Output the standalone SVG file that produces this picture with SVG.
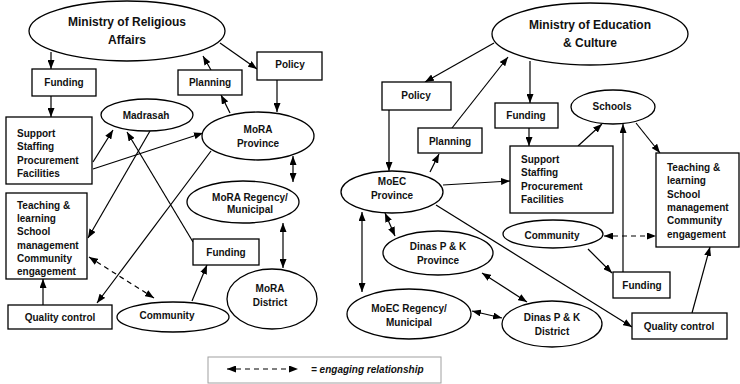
<svg xmlns="http://www.w3.org/2000/svg" width="740" height="384" viewBox="0 0 740 384">
<defs>
<marker id="ae" viewBox="0 0 9 7" refX="9" refY="3.5" markerWidth="9" markerHeight="7" markerUnits="userSpaceOnUse" orient="auto"><path d="M0,0 L9,3.5 L0,7 z" fill="#000"/></marker>
<marker id="as" viewBox="0 0 9 7" refX="9" refY="3.5" markerWidth="9" markerHeight="7" markerUnits="userSpaceOnUse" orient="auto-start-reverse"><path d="M0,0 L9,3.5 L0,7 z" fill="#000"/></marker>
</defs>
<style>
.n{fill:#fff;stroke:#000;stroke-width:1.3}
.t{font-family:"Liberation Sans",Arial,sans-serif;font-weight:bold;font-size:10px;fill:#111}
.c{text-anchor:middle}
.big{font-size:12px}
.e{fill:none;stroke:#000;stroke-width:1.2;marker-end:url(#ae)}
.d{fill:none;stroke:#000;stroke-width:1.2;marker-start:url(#as);marker-end:url(#ae)}
.ds{stroke-dasharray:5 4}
</style>
<rect width="740" height="384" fill="#fff"/>
<g id="connectors">
<line class="e" x1="51" y1="52" x2="51" y2="69"/>
<line class="e" x1="51" y1="96" x2="51" y2="117"/>
<line class="e" x1="211" y1="70" x2="203" y2="56"/>
<line class="e" x1="220" y1="43" x2="257" y2="69"/>
<line class="e" x1="277" y1="80" x2="277" y2="112"/>
<line class="e" x1="230" y1="113" x2="221" y2="95"/>
<line class="e" x1="93" y1="162" x2="113" y2="130"/>
<line class="e" x1="93" y1="169" x2="203" y2="133"/>
<line class="e" x1="150" y1="131" x2="88" y2="238"/>
<line class="e" x1="193" y1="242" x2="127" y2="132"/>
<line class="e" x1="211" y1="151" x2="97" y2="303"/>
<line class="d" x1="293" y1="156" x2="293" y2="182"/>
<line class="d" x1="283" y1="223" x2="283" y2="268"/>
<line class="e" x1="43" y1="305" x2="43" y2="279"/>
<line class="e" x1="192" y1="301" x2="207" y2="265"/>
<line class="d ds" x1="89" y1="257" x2="154" y2="298"/>
<line class="e" x1="494" y1="43" x2="425" y2="82"/>
<line class="e" x1="530" y1="61" x2="530" y2="103"/>
<line class="e" x1="452" y1="128" x2="508" y2="57"/>
<line class="e" x1="389" y1="110" x2="389" y2="171"/>
<line class="e" x1="430" y1="172" x2="439" y2="154"/>
<line class="e" x1="529" y1="128" x2="529" y2="146"/>
<line class="e" x1="443" y1="185" x2="510" y2="181"/>
<line class="e" x1="578" y1="146" x2="602" y2="124"/>
<line class="e" x1="636" y1="123" x2="660" y2="153"/>
<line class="e" x1="623" y1="272" x2="623" y2="124"/>
<line class="d ds" x1="604" y1="236" x2="656" y2="236"/>
<line class="e" x1="436" y1="205" x2="632" y2="327"/>
<line class="d" x1="385" y1="213" x2="395" y2="236"/>
<line class="d" x1="362" y1="212" x2="362" y2="292"/>
<line class="d" x1="482" y1="273" x2="527" y2="302"/>
<line class="d" x1="472" y1="311" x2="502" y2="318"/>
<line class="e" x1="588" y1="249" x2="612" y2="273"/>
<line class="e" x1="692" y1="313" x2="710" y2="247"/>
</g>
<g id="mora"><ellipse class="n" cx="127" cy="31" rx="98" ry="30"/><text class="t c big" x="127" y="26">Ministry of Religious</text><text class="t c big" x="127" y="44">Affairs</text></g>
<g id="funding-l"><rect class="n" x="32" y="69" width="64" height="27"/><text class="t c" x="64" y="86">Funding</text></g>
<g id="planning-l"><rect class="n" x="178" y="70" width="64" height="25"/><text class="t c" x="210" y="86">Planning</text></g>
<g id="policy-l"><rect class="n" x="257" y="52" width="65" height="28"/><text class="t c" x="290" y="68">Policy</text></g>
<g id="madrasah"><ellipse class="n" cx="147" cy="115" rx="46" ry="16"/><text class="t c" x="146" y="118.5">Madrasah</text></g>
<g id="support-l"><rect class="n" x="6" y="117" width="86" height="67"/><text class="t" x="17" y="136.5">Support</text><text class="t" x="17" y="150">Staffing</text><text class="t" x="17" y="163.5">Procurement</text><text class="t" x="17" y="177">Facilities</text></g>
<g id="mora-province"><ellipse class="n" cx="258" cy="136" rx="56" ry="24"/><text class="t c" x="258" y="132.5">MoRA</text><text class="t c" x="258" y="146.5">Province</text></g>
<g id="mora-regency"><ellipse class="n" cx="243" cy="202" rx="56" ry="21"/><text class="t c" x="250" y="200.5">MoRA Regency/</text><text class="t c" x="250" y="213">Municipal</text></g>
<g id="teaching-l"><rect class="n" x="6" y="193" width="81" height="86"/><text class="t" x="17" y="209">Teaching &amp;</text><text class="t" x="17" y="222.2">learning</text><text class="t" x="17" y="235.4">School</text><text class="t" x="17" y="248.6">management</text><text class="t" x="17" y="261.8">Community</text><text class="t" x="17" y="275">engagement</text></g>
<g id="funding-l2"><rect class="n" x="193" y="239" width="66" height="26"/><text class="t c" x="226" y="255.5">Funding</text></g>
<g id="mora-district"><ellipse class="n" cx="272" cy="299" rx="45" ry="30"/><text class="t c" x="270" y="291.5">MoRA</text><text class="t c" x="270" y="305.5">District</text></g>
<g id="qc-l"><rect class="n" x="8" y="305" width="104" height="24"/><text class="t c" x="60" y="321">Quality control</text></g>
<g id="community-l"><ellipse class="n" cx="173" cy="317" rx="56" ry="15"/><text class="t c" x="167" y="318.5">Community</text></g>
<g id="moec"><ellipse class="n" cx="590" cy="34" rx="98" ry="31"/><text class="t c big" x="590" y="29">Ministry of Education</text><text class="t c big" x="590" y="47">&amp; Culture</text></g>
<g id="policy-r"><rect class="n" x="382" y="82" width="69" height="28"/><text class="t c" x="416" y="98.5">Policy</text></g>
<g id="funding-r"><rect class="n" x="495" y="103" width="63" height="25"/><text class="t c" x="526" y="119">Funding</text></g>
<g id="schools"><ellipse class="n" cx="613" cy="107" rx="42" ry="17"/><text class="t c" x="612" y="110">Schools</text></g>
<g id="planning-r"><rect class="n" x="418" y="128" width="64" height="25"/><text class="t c" x="450" y="144.5">Planning</text></g>
<g id="moec-province"><ellipse class="n" cx="392" cy="192" rx="51" ry="21"/><text class="t c" x="392" y="185">MoEC</text><text class="t c" x="392" y="199">Province</text></g>
<g id="support-r"><rect class="n" x="510" y="146" width="103" height="67"/><text class="t" x="521" y="162.5">Support</text><text class="t" x="521" y="176">Staffing</text><text class="t" x="521" y="189.5">Procurement</text><text class="t" x="521" y="203">Facilities</text></g>
<g id="teaching-r"><rect class="n" x="656" y="153" width="83" height="94"/><text class="t" x="667" y="170.5">Teaching &amp;</text><text class="t" x="667" y="184">learning</text><text class="t" x="667" y="197.5">School</text><text class="t" x="667" y="210.7">management</text><text class="t" x="667" y="224">Community</text><text class="t" x="667" y="237.5">engagement</text></g>
<g id="community-r"><ellipse class="n" cx="553" cy="234" rx="50" ry="14"/><text class="t c" x="552" y="239">Community</text></g>
<g id="dinas-province"><ellipse class="n" cx="438" cy="253" rx="55" ry="22"/><text class="t c" x="438" y="249.5">Dinas P &amp; K</text><text class="t c" x="438" y="263.5">Province</text></g>
<g id="funding-r2"><rect class="n" x="613" y="272" width="57" height="26"/><text class="t c" x="642" y="288.5">Funding</text></g>
<g id="moec-regency"><ellipse class="n" cx="409" cy="314" rx="62" ry="25"/><text class="t c" x="409" y="311.5">MoEC Regency/</text><text class="t c" x="409" y="325.5">Municipal</text></g>
<g id="dinas-district"><ellipse class="n" cx="552" cy="324" rx="50" ry="23"/><text class="t c" x="552" y="320.5">Dinas P &amp; K</text><text class="t c" x="552" y="335">District</text></g>
<g id="qc-r"><rect class="n" x="632" y="313" width="95" height="26"/><text class="t c" x="679" y="329.5">Quality control</text></g>
<g id="legend"><rect x="208" y="357" width="233" height="26" fill="#fff" stroke="#a0a0a0" stroke-width="1"/><line class="d ds" x1="227" y1="369" x2="298" y2="369"/><text class="t" x="311" y="373" font-style="italic">= engaging relationship</text></g>
</svg>
